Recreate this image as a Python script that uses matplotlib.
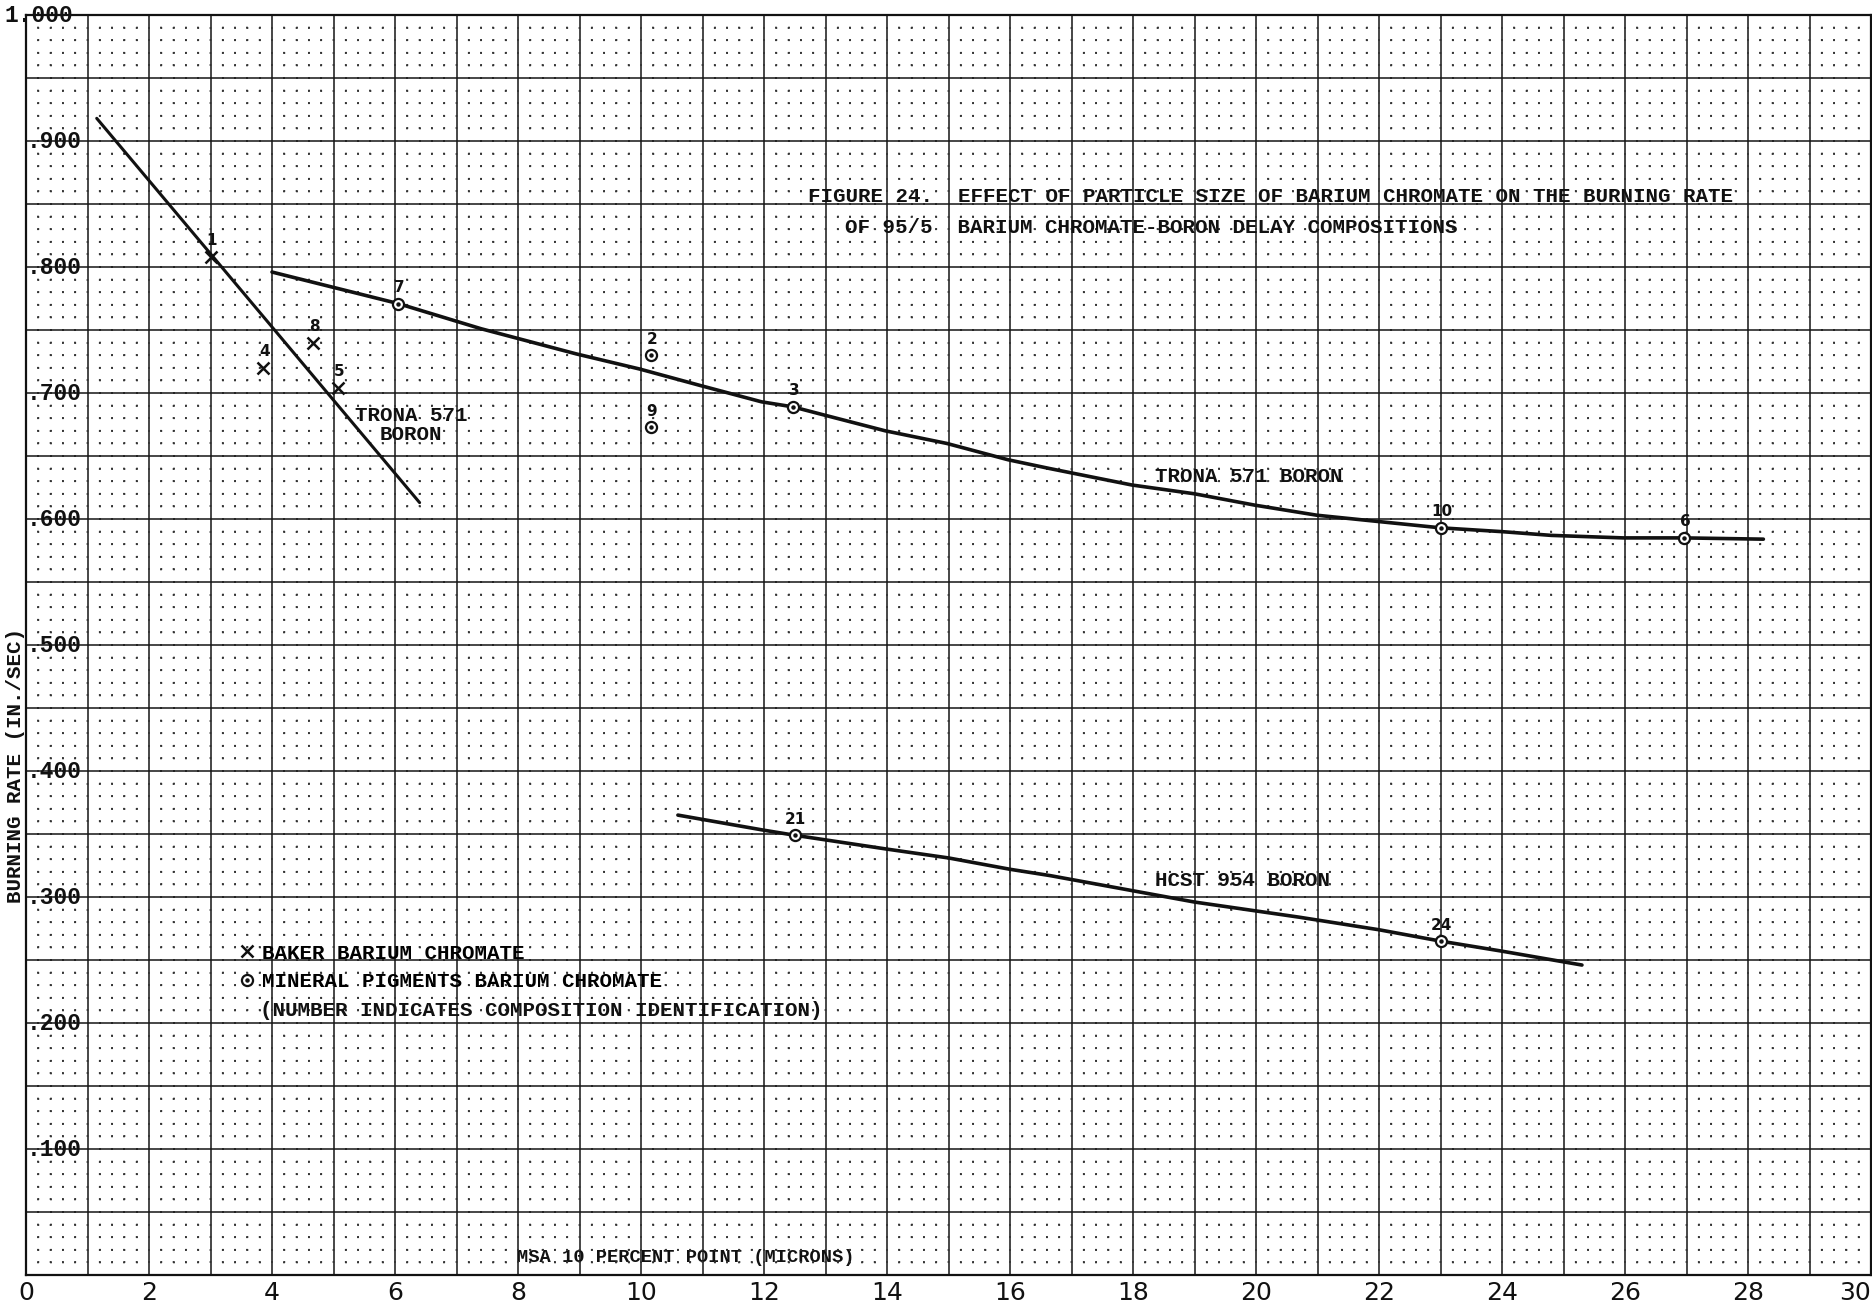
import matplotlib
matplotlib.use("Agg")
import matplotlib.pyplot as plt
from matplotlib.lines import Line2D
from matplotlib.ticker import MultipleLocator, FuncFormatter

plt.rcParams["lines.scale_dashes"] = False

# ---- data -------------------------------------------------------------
# Baker barium chromate compositions (x markers)
baker_size = [3.0, 3.86, 4.67, 5.08]
baker_rate = [0.808, 0.720, 0.740, 0.704]
baker_ids = ["1", "4", "8", "5"]

# Mineral Pigments barium chromate compositions (circle markers)
mineral_size = [6.05, 10.16, 10.16, 12.47, 23.0, 26.96, 12.5, 23.0]
mineral_rate = [0.771, 0.730, 0.673, 0.689, 0.593, 0.585, 0.349, 0.265]
mineral_ids = ["7", "2", "9", "3", "10", "6", "21", "24"]

# faired curves
trona_baker_size = [1.15, 6.40]
trona_baker_rate = [0.918, 0.613]

trona_mineral_size = [4.0, 6.05, 7.4, 8.95, 9.98, 10.96, 11.96, 12.47, 12.94,
                      13.97, 14.97, 15.97, 16.65, 17.98, 19.0, 19.98, 20.99,
                      21.99, 23.0, 23.99, 24.8, 25.97, 26.96, 28.25]
trona_mineral_rate = [0.796, 0.771, 0.751, 0.731, 0.719, 0.706, 0.693, 0.689,
                      0.683, 0.670, 0.660, 0.647, 0.640, 0.627, 0.620, 0.611,
                      0.603, 0.598, 0.593, 0.590, 0.587, 0.585, 0.585, 0.584]

hcst_size = [10.6, 12.0, 12.5, 14.0, 15.0, 16.0, 16.65, 19.0, 20.7, 22.0,
             23.0, 24.0, 25.3]
hcst_rate = [0.365, 0.353, 0.349, 0.338, 0.331, 0.322, 0.317, 0.296, 0.284,
             0.274, 0.265, 0.257, 0.246]

y_ticks = [0.1, 0.2, 0.3, 0.4, 0.5, 0.6, 0.7, 0.8, 0.9, 1.0]
y_tick_labels = [".100", ".200", ".300", ".400", ".500", ".600", ".700",
                 ".800", ".900", "1.000"]

title_lines = [
    "FIGURE 24.  EFFECT OF PARTICLE SIZE OF BARIUM CHROMATE ON THE BURNING RATE",
    "OF 95/5  BARIUM CHROMATE-BORON DELAY COMPOSITIONS",
]

# ---- figure -----------------------------------------------------------
W, H, DPI = 1872, 1303, 100
fig = plt.figure(figsize=(W / DPI, H / DPI), dpi=DPI, facecolor="white")
ax_l, ax_r, ax_t, ax_b = 26, 1871, 15, 1275
ax = fig.add_axes([ax_l / W, 1 - ax_b / H, (ax_r - ax_l) / W, (ax_b - ax_t) / H])
ax.set_xlim(0, 30)
ax.set_ylim(0, 1.0)

INK = "#111111"
TYPE = dict(family="Liberation Mono", weight="bold", color=INK)

# graph-paper rulings
ax.xaxis.set_major_locator(MultipleLocator(1))
ax.xaxis.set_minor_locator(MultipleLocator(0.2))
ax.yaxis.set_major_locator(MultipleLocator(0.05))
ax.yaxis.set_minor_locator(MultipleLocator(0.01))
ax.set_axisbelow(True)
ax.grid(which="major", color="#151515", linewidth=1.1)

px_w = (ax_r - ax_l) / 30 * 0.2      # px between vertical minor rulings
px_h = (ax_b - ax_t) / 1.0 * 0.01    # px between horizontal minor rulings
dot = 1.3
per_v = px_h * 72 / DPI
per_h = px_w * 72 / DPI
ax.xaxis.grid(which="minor", color="#333333", linewidth=1.3,
              linestyle=(dot / 2, (dot, per_v - dot)))
ax.yaxis.grid(which="minor", color="#333333", linewidth=1.3,
              linestyle=(dot / 2, (dot, per_h - dot)))

for sp in ax.spines.values():
    sp.set_linewidth(1.6)
    sp.set_color(INK)

ax.tick_params(which="both", length=0)
ax.xaxis.set_major_formatter(FuncFormatter(
    lambda v, pos: f"{int(round(v))}" if int(round(v)) % 2 == 0 else ""))
ax.tick_params(axis="x", pad=4, labelsize=18, labelcolor=INK)
fig.canvas.draw()
for lab in ax.get_xticklabels():
    lab.set_family("DejaVu Sans")
    if lab.get_text() == "30":
        lab.set_horizontalalignment("right")
ax.yaxis.set_major_formatter(FuncFormatter(lambda v, pos: ""))

# rate labels written along the left edge of the grid
for v, s in zip(y_ticks, y_tick_labels):
    dx = -22 if s.startswith("1") else 1
    ax.annotate(s, xy=(0, v), xycoords=("axes fraction", "data"),
                xytext=(dx, 0), textcoords="offset pixels",
                ha="left", va="center", fontsize=16.5, **TYPE)

ax.set_xlabel("MSA 10 PERCENT POINT (MICRONS)", fontsize=13.5, ha="left",
              va="center", **TYPE)
ax.xaxis.set_label_coords(7.98 / 30, 0.0135)
ax.set_ylabel("BURNING RATE (IN./SEC)", fontsize=15, ha="center",
              va="center", **TYPE)
ax.yaxis.set_label_coords(-0.0058, 0.404)

# curves
ax.plot(trona_baker_size, trona_baker_rate, color=INK, lw=2.2,
        solid_capstyle="round", zorder=3)
ax.plot(trona_mineral_size, trona_mineral_rate, color=INK, lw=2.6,
        solid_capstyle="round", zorder=3)
ax.plot(hcst_size, hcst_rate, color=INK, lw=2.6,
        solid_capstyle="round", zorder=3)

# sample points
ax.plot(baker_size, baker_rate, ls="none", marker="x", ms=8, mew=1.8,
        color=INK, zorder=4)
ax.plot(mineral_size, mineral_rate, ls="none", marker="o", ms=8, mew=1.6,
        mfc="white", mec=INK, zorder=4)
ax.plot(mineral_size, mineral_rate, ls="none", marker="o", ms=2.2,
        color=INK, zorder=5)

for x, y, s in zip(baker_size + mineral_size, baker_rate + mineral_rate,
                   baker_ids + mineral_ids):
    ax.annotate(s, xy=(x, y), xytext=(1, 16), textcoords="offset pixels",
                ha="center", va="center", fontsize=11, fontweight="bold",
                family="DejaVu Sans", color=INK, zorder=6)

# curve names
ax.text(6.26, 0.675, "TRONA 571\nBORON", ha="center", va="center",
        multialignment="center", linespacing=1.0, fontsize=15, **TYPE)
ax.text(18.35, 0.634, "TRONA 571 BORON", ha="left", va="center",
        fontsize=15, **TYPE)
ax.text(18.35, 0.313, "HCST 954 BORON", ha="left", va="center",
        fontsize=15, **TYPE)

# title block
ax.text(12.72, 0.856, title_lines[0], ha="left", va="center", fontsize=15,
        **TYPE)
ax.text(13.32, 0.831, title_lines[1], ha="left", va="center", fontsize=15,
        **TYPE)

# key
h_baker = Line2D([], [], ls="none", marker="x", ms=8, mew=1.8, color=INK)
h_ring = Line2D([], [], ls="none", marker="o", ms=8, mew=1.6, mfc="white",
                mec=INK)
h_dot = Line2D([], [], ls="none", marker="o", ms=2.2, color=INK)
ax.legend([h_baker, (h_ring, h_dot)],
          ["BAKER BARIUM CHROMATE", "MINERAL PIGMENTS BARIUM CHROMATE"],
          loc="upper left", bbox_to_anchor=(3.46, 0.263),
          bbox_transform=ax.transData, frameon=False, borderpad=0,
          borderaxespad=0, handlelength=0.8, handletextpad=0.3,
          labelspacing=0.45, prop=dict(family="Liberation Mono",
                                       weight="bold", size=15))
ax.text(3.8, 0.210, "(NUMBER INDICATES COMPOSITION IDENTIFICATION)",
        ha="left", va="center", fontsize=15, **TYPE)

fig.savefig("out.png", dpi=DPI, facecolor="white")
